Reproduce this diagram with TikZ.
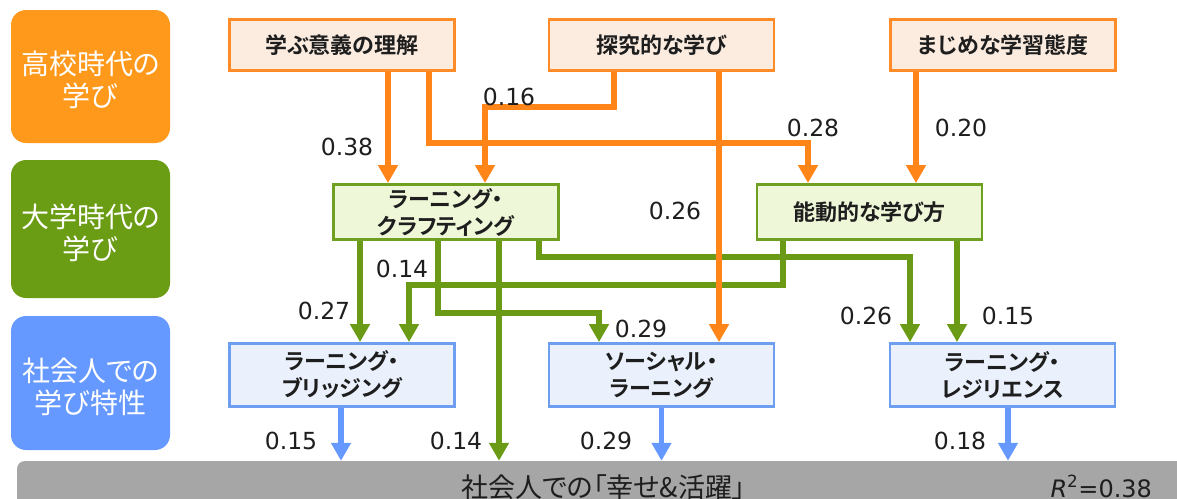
\documentclass[tikz,border=0pt]{standalone}
\usepackage{fontspec}
\setmainfont{DejaVu Sans}
\newfontfamily\jpfont[RawFeature=+palt,BoldFont={Noto Sans CJK JP Bold}]{Noto Sans CJK JP}
\usepackage{xcolor}
\usetikzlibrary{arrows.meta}
\definecolor{schoolDark}{RGB}{255,153,28}
\definecolor{schoolArrow}{RGB}{255,133,25}
\definecolor{schoolLine}{RGB}{255,140,40}
\definecolor{schoolFill}{RGB}{252,236,224}
\definecolor{univDark}{RGB}{106,156,20}
\definecolor{univArrow}{RGB}{106,154,22}
\definecolor{univLine}{RGB}{112,160,34}
\definecolor{univFill}{RGB}{238,247,216}
\definecolor{workDark}{RGB}{102,153,255}
\definecolor{workArrow}{RGB}{102,153,255}
\definecolor{workLine}{RGB}{110,158,240}
\definecolor{workFill}{RGB}{234,241,252}
\definecolor{barGray}{RGB}{166,166,166}
\definecolor{ink}{RGB}{30,30,30}
\newcommand{\toppad}{\rule{0pt}{31pt}}
\tikzset {
	category/.style={rectangle, rounded corners=15pt, text=white, align=center, inner sep=0pt,
					minimum width=159pt, font=\jpfont\fontsize{28}{32}\selectfont},
	factor/.style={rectangle, line width=2.8pt, inner sep=0pt, align=center, text=ink,
					minimum width=225pt, font=\jpfont\bfseries\fontsize{22}{27}\selectfont},
	school/.style={factor, draw=schoolLine, fill=schoolFill, minimum height=51pt},
	univ/.style={factor, draw=univLine, fill=univFill, minimum height=55pt},
	work/.style={factor, draw=workLine, fill=workFill, minimum height=63pt},
	link/.style={line width=5.5pt, -{Triangle[width=19pt,length=18pt]}},
	schoolLink/.style={link, draw=schoolArrow},
	univLink/.style={link, draw=univArrow},
	workLink/.style={link, draw=workArrow},
	coef/.style={inner sep=0pt, text=ink, font=\fontsize{23.5}{26}\selectfont}
}
\begin{document}
\begin{tikzpicture}[x=1pt, y=-1pt]
	\useasboundingbox (0,0) rectangle (1177,498);
	\clip (0,0) rectangle (1177,498);
	\node [category, fill=schoolDark, minimum height=133pt] (highschool) at (90.5,76.5) {\toppad 高校時代の\\学び};
	\node [category, fill=univDark, minimum height=138pt] (university) at (90.5,229) {\toppad 大学時代の\\学び};
	\node [category, fill=workDark, minimum height=134pt] (working) at (90.5,383) {\toppad 社会人での\\学び特性};

	\node [school] (meaning) at (342,45) {学ぶ意義の理解};
	\node [school] (inquiry) at (661.5,45) {探究的な学び};
	\node [school] (diligent) at (1003,45) {まじめな学習態度};
	\node [univ] (crafting) at (446,212) {ラーニング・\\クラフティング};
	\node [univ] (active) at (869.5,212) {能動的な学び方};
	\node [work] (bridging) at (342,375) {ラーニング・\\ブリッジング};
	\node [work] (social) at (661.5,375) {ソーシャル・\\ラーニング};
	\node [work] (resilience) at (1002.5,375) {ラーニング・\\レジリエンス};
	\node [rectangle, fill=barGray, rounded corners=8pt, minimum width=1173pt, minimum height=60pt] (happy) at (603.5,491) {};
	\node [anchor=base, text=ink, font=\jpfont\fontsize{27}{30}\selectfont] (happytext) at (603.5,497) {社会人での「幸せ\&活躍」};
	\node [anchor=base west, text=ink, font=\fontsize{24}{28}\selectfont] (rsquare) at (1047,497) {\textit{R}\textsuperscript{2}=0.38};

	\draw [univLink] ([xshift=-86pt]crafting.south) -- ([xshift=18pt]bridging.north);
	\draw [univLink] ([xshift=-8pt]crafting.south) -- ++(0,72) -| ([xshift=-62.5pt]social.north);
	\draw [univLink] ([xshift=53pt]crafting.south) -- ([xshift=-104.5pt]happy.north);
	\draw [univLink] ([xshift=93pt]crafting.south) -- ++(0,16) -| ([xshift=-92.5pt]resilience.north);
	\draw [univLink] ([xshift=-86.5pt]active.south) -- ++(0,44) -| ([xshift=67pt]bridging.north);
	\draw [univLink] ([xshift=87.5pt]active.south) -- ([xshift=-45.5pt]resilience.north);

	\draw [schoolLink] ([xshift=46pt]meaning.south) -- ([xshift=-58pt]crafting.north);
	\draw [schoolLink] ([xshift=87pt]meaning.south) -- ++(0,71) -| ([xshift=-61.5pt]active.north);
	\draw [schoolLink] ([xshift=-47.5pt]inquiry.south) -- ++(0,35) -| ([xshift=39pt]crafting.north);
	\draw [schoolLink] ([xshift=57.5pt]inquiry.south) -- ([xshift=57.5pt]social.north);
	\draw [schoolLink] ([xshift=-87pt]diligent.south) -- ([xshift=46.5pt]active.north);

	\draw [workLink] ([xshift=-1pt]bridging.south) -- ([xshift=-262.5pt]happy.north);
	\draw [workLink] (social.south) -- ([xshift=58pt]happy.north);
	\draw [workLink] ([xshift=5.5pt]resilience.south) -- ([xshift=404.5pt]happy.north);

	\foreach \val/\x/\y in {0.38/347/147, 0.16/509/97, 0.28/813/128, 0.20/961/128, 0.26/675/211,
			0.14/402/269, 0.27/324/311, 0.29/641/329, 0.26/866/316, 0.15/1008/316,
			0.15/291/441, 0.14/456/441, 0.29/606/441, 0.18/960/441}
		\node [coef] (coef-\x-\y) at (\x,\y) {\val};
\end{tikzpicture}
\end{document}
